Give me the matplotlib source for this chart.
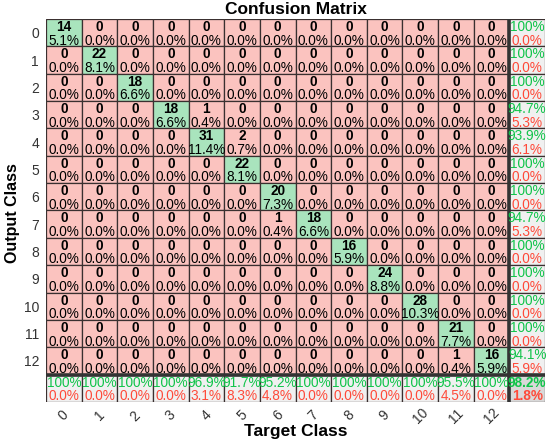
import numpy as np
import matplotlib
matplotlib.use("Agg")
import matplotlib.pyplot as plt
from matplotlib.patches import Rectangle

plt.rcParams['font.family'] = ['Liberation Sans', 'DejaVu Sans']

classes = ['0', '1', '2', '3', '4', '5', '6', '7', '8', '9', '10', '11', '12']
diag_counts = [14, 22, 18, 18, 31, 22, 20, 18, 16, 24, 28, 21, 16]
# (output row, target column, count)
off_diag = [(3, 4, 1), (4, 5, 2), (7, 6, 1), (12, 11, 1)]

n = len(classes)
cm = np.zeros((n, n), dtype=int)
for i, v in enumerate(diag_counts):
    cm[i, i] = v
for r, c, v in off_diag:
    cm[r, c] = v
total = cm.sum()

GREEN_BG = '#a9e4bd'
RED_BG = '#fbc3bf'
GRAY_BG = '#f0f0f0'
DARK_GRAY_BG = '#d9d9d9'
GREEN_TXT = '#10c44a'
RED_TXT = '#ff4a3a'
EDGE = '#3a3030'

def fmt(p):
    if abs(p - 100) < 1e-9:
        return '100%'
    return '%.1f%%' % p

fig = plt.figure(figsize=(5.5, 4.44), dpi=100)
L, R, T, B = 46 / 550, 545 / 550, 1 - 19 / 444, 1 - 402 / 444
ax = fig.add_axes([L, B, R - L, T - B])
ax.set_xlim(0, n + 1)
ax.set_ylim(n + 1, 0)

fs = 9.8
y_top, y_bot = 0.29, 0.79
for i in range(n + 1):
    for j in range(n + 1):
        if i < n and j < n:
            fc = GREEN_BG if i == j else RED_BG
        elif i == n and j == n:
            fc = DARK_GRAY_BG
        else:
            fc = GRAY_BG
        ax.add_patch(Rectangle((j, i), 1, 1, facecolor=fc, edgecolor=EDGE, lw=0.9))
        if i < n and j < n:
            ax.text(j + 0.5, i + y_top, str(cm[i, j]), ha='center', va='center',
                    fontsize=fs, fontweight='bold', color='black')
            ax.text(j + 0.5, i + y_bot, fmt(100 * cm[i, j] / total), ha='center', va='center',
                    fontsize=fs, color='black')
        else:
            if i < n and j == n:
                s = cm[i, :].sum()
                good = cm[i, i]
            elif i == n and j < n:
                s = cm[:, j].sum()
                good = cm[j, j]
            else:
                s = total
                good = np.trace(cm)
            p = 100 * good / s if s else 0
            w = 'bold' if (i == n and j == n) else 'normal'
            ax.text(j + 0.5, i + y_top, fmt(p), ha='center', va='center',
                    fontsize=fs, color=GREEN_TXT, fontweight=w)
            ax.text(j + 0.5, i + y_bot, fmt(100 - p), ha='center', va='center',
                    fontsize=fs, color=RED_TXT, fontweight=w)

# thick separators
ax.plot([n, n], [0, n + 1], color='#333333', lw=2.6, solid_capstyle='butt')
ax.plot([0, n + 1], [n, n], color='#333333', lw=2.6, solid_capstyle='butt')

for s in ax.spines.values():
    s.set_visible(False)
ax.set_xticks(np.arange(n) + 0.5)
ax.set_xticklabels(classes, rotation=45, ha='center', va='center', fontsize=10, color='#333333')
ax.set_yticks(np.arange(n) + 0.5)
ax.set_yticklabels(classes, fontsize=10, color='#333333')
ax.tick_params(axis='both', length=0)
ax.tick_params(axis='x', pad=10)
ax.tick_params(axis='y', pad=5)

fig.text(295.5 / 550, 1 - 9 / 444, 'Confusion Matrix', ha='center', va='center',
         fontsize=12.5, fontweight='bold')
fig.text(295.5 / 550, 1 - 431 / 444, 'Target Class', ha='center', va='center',
         fontsize=12.5, fontweight='bold')
fig.text(12 / 550, 1 - 213 / 444, 'Output Class', ha='center', va='center',
         fontsize=11.5, fontweight='bold', rotation=90)

fig.savefig('out.png', dpi=100)
